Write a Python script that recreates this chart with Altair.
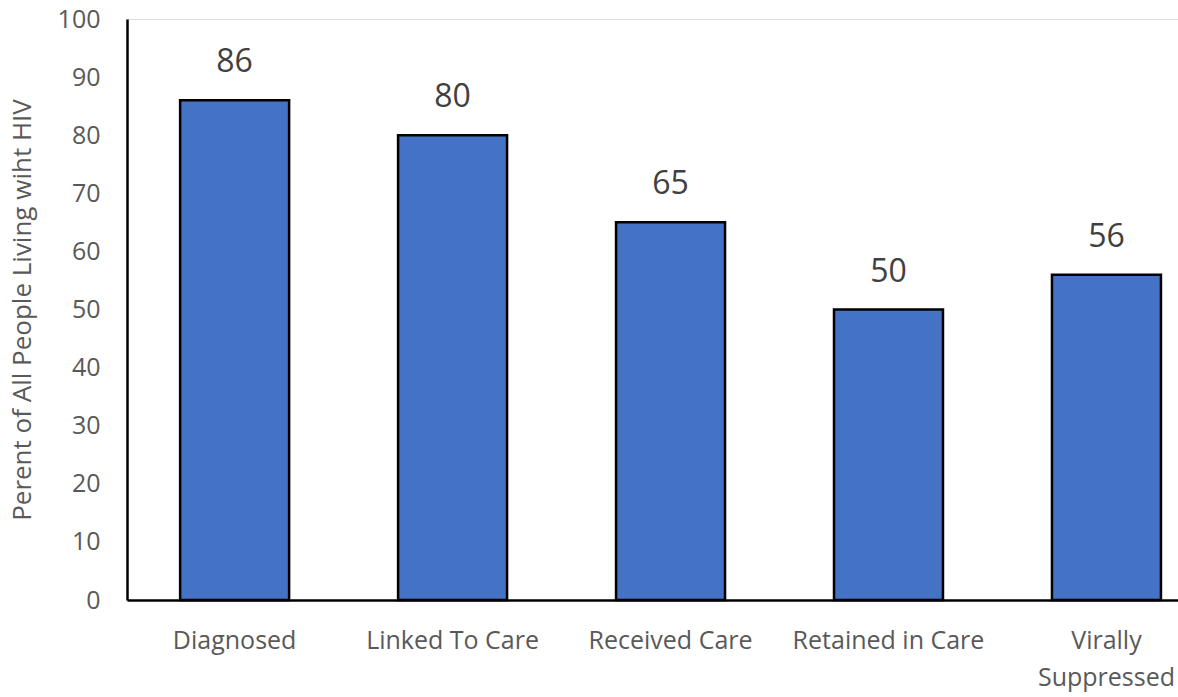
import altair as alt
import pandas as pd

categories = ["Diagnosed", "Linked To Care", "Received Care", "Retained in Care", "Virally Suppressed"]
values = [86, 80, 65, 50, 56]

df = pd.DataFrame({"stage": categories, "pct": values})

FONT = "Open Sans"
GRAY = "#595959"

x = alt.X(
    "stage:N",
    sort=categories,
    scale=alt.Scale(paddingInner=0.5, paddingOuter=0.161, align=0.757),
    axis=alt.Axis(
        title=None,
        labelAngle=0,
        labelFont=FONT,
        labelFontSize=25,
        labelColor=GRAY,
        labelPadding=28,
        labelBaseline="top",
        labelLineHeight=37,
        labelLimit=400,
        labelOverlap=False,
        labelExpr="datum.value == 'Virally Suppressed' ? ['Virally', 'Suppressed'] : datum.value",
        ticks=False,
        domainColor="black",
        domainWidth=2.5,
        grid=False,
    ),
)

y = alt.Y(
    "pct:Q",
    scale=alt.Scale(domain=[0, 100], nice=False),
    axis=alt.Axis(
        title="Perent of All People Living wiht HIV",
        titleFont=FONT,
        titleFontSize=26,
        titleFontWeight="normal",
        titleColor=GRAY,
        titlePadding=22,
        values=list(range(0, 101, 10)),
        labelFont=FONT,
        labelFontSize=25,
        labelColor=GRAY,
        labelPadding=27,
        ticks=False,
        domainColor="black",
        domainWidth=2.5,
        grid=False,
    ),
)

bars = alt.Chart(df).mark_bar(
    color="#4472C4", stroke="black", strokeWidth=2.5
).encode(x=x, y=y)

labels = alt.Chart(df).mark_text(
    font=FONT, fontSize=32, color="#404040", baseline="alphabetic", dy=-28
).encode(x=alt.X("stage:N", sort=categories), y="pct:Q", text="pct:Q")

chart = (
    alt.layer(bars, labels)
    .properties(
        width=1051,
        height=581,
        autosize=alt.AutoSizeParams(type="none"),
        padding={"left": 127, "top": 19, "right": 0, "bottom": 97},
    )
    .configure_view(stroke=None)
    .configure(background="white")
)

chart.save("out.html", embed_options={"renderer": "svg", "actions": False})
